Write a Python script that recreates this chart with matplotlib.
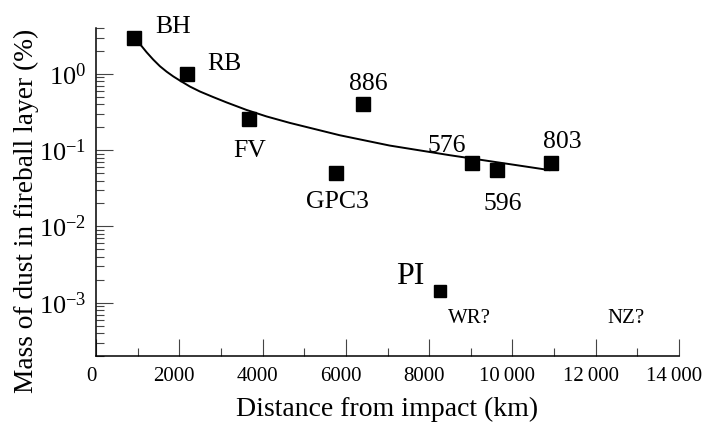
import matplotlib
matplotlib.use('Agg')
import matplotlib.pyplot as plt
from matplotlib.ticker import LogLocator, NullFormatter, FuncFormatter, MultipleLocator
from matplotlib.transforms import ScaledTranslation

# Measured sites: distance from impact (km) and dust mass in fireball layer (%)
names = ['BH', 'RB', 'FV', 'GPC3', '886', 'PI', '576', '596', '803']
distance = [911, 2190, 3677, 5772, 6410, 8249, 9033, 9640, 10928]
mass = [3.0, 1.0, 0.254, 0.0506, 0.406, 0.00142, 0.067, 0.055, 0.067]

# Fitted trend line
curve_x = [1055, 1216, 1374, 1535, 1695, 1854, 2014, 2254, 2494, 2806, 3134,
           3614, 4094, 4652, 5851, 7050, 8489, 10089, 10887]
curve_y = [2.46, 1.92, 1.54, 1.26, 1.07, 0.928, 0.818, 0.683, 0.588, 0.499, 0.423,
           0.337, 0.277, 0.228, 0.157, 0.115, 0.086, 0.0637, 0.0548]

# Sites without a measurement
unsure_names = ['WR?', 'NZ?']

x_ticks = [0, 2000, 4000, 6000, 8000, 10000, 12000, 14000]

plt.rcParams['font.family'] = ['Liberation Serif', 'DejaVu Serif']
plt.rcParams['mathtext.fontset'] = 'custom'
plt.rcParams['mathtext.rm'] = 'Liberation Serif'

fig = plt.figure(figsize=(7.04, 4.28), dpi=100)
ax = fig.add_axes([0.1364, 0.1682, 0.8281, 0.7664])

ax.plot(curve_x, curve_y, color='black', lw=1.4, zorder=2)
for i, n in enumerate(names):
    ms = 8.5 if n == 'PI' else 9.5
    ax.plot(distance[i], mass[i], 's', color='black', ms=ms, zorder=3)

# label placement (data coords of text centre / baseline)
label_pos = {
    'BH': (1847, 3.45), 'RB': (3093, 1.14), 'FV': (3693, 0.081),
    'GPC3': (5803, 0.0175), '886': (6535, 0.606), '576': (8417, 0.094),
    '596': (9760, 0.0165), '803': (11199, 0.106), 'PI': (7554, 0.00174),
    'WR?': (8969, 5.5e-4), 'NZ?': (12734, 5.5e-4),
}
for n in names:
    x, y = label_pos[n]
    size = 23 if n == 'PI' else 18.5
    ax.text(x, y, n, ha='center', va='baseline', fontsize=size, clip_on=False)
for n in unsure_names:
    x, y = label_pos[n]
    ax.text(x, y, n, ha='center', va='baseline', fontsize=15)

ax.set_yscale('log')
ax.set_xlim(0, 14000)
ax.set_ylim(2e-4, 4)


def fmt_x(v, pos):
    v = int(round(v))
    if v >= 10000:
        return f'{v // 1000}\u2009{v % 1000:03d}'
    return str(v)


ax.set_xticks(x_ticks)
ax.xaxis.set_minor_locator(MultipleLocator(1000))
ax.xaxis.set_major_formatter(FuncFormatter(fmt_x))
ax.yaxis.set_major_locator(LogLocator(base=10, numticks=20))
ax.yaxis.set_minor_locator(LogLocator(base=10, subs=range(2, 10), numticks=100))
ax.yaxis.set_minor_formatter(NullFormatter())

ax.tick_params(which='both', direction='in', color='#444444', width=0.8)
ax.tick_params(which='major', length=12, pad=8)
ax.tick_params(which='minor', length=5.5)
ax.tick_params(axis='x', labelsize=15)
ax.tick_params(axis='y', labelsize=19, pad=7)

for s in ['top', 'right']:
    ax.spines[s].set_visible(False)
for s in ['left', 'bottom']:
    ax.spines[s].set_linewidth(1.1)

ax.set_xlabel('Distance from impact (km)', fontsize=20, labelpad=8)
ax.set_ylabel('Mass of dust in fireball layer (%)', fontsize=19.7)
ax.yaxis.set_label_coords(-0.097, 0.442)

# x tick labels sit a little left of their ticks in the original
fig.canvas.draw()
shift = ScaledTranslation(-5 / 100, 0, fig.dpi_scale_trans)
for t in ax.xaxis.get_major_ticks():
    t.label1.set_transform(t.label1.get_transform() + shift)

plt.savefig('out.png', dpi=100)
